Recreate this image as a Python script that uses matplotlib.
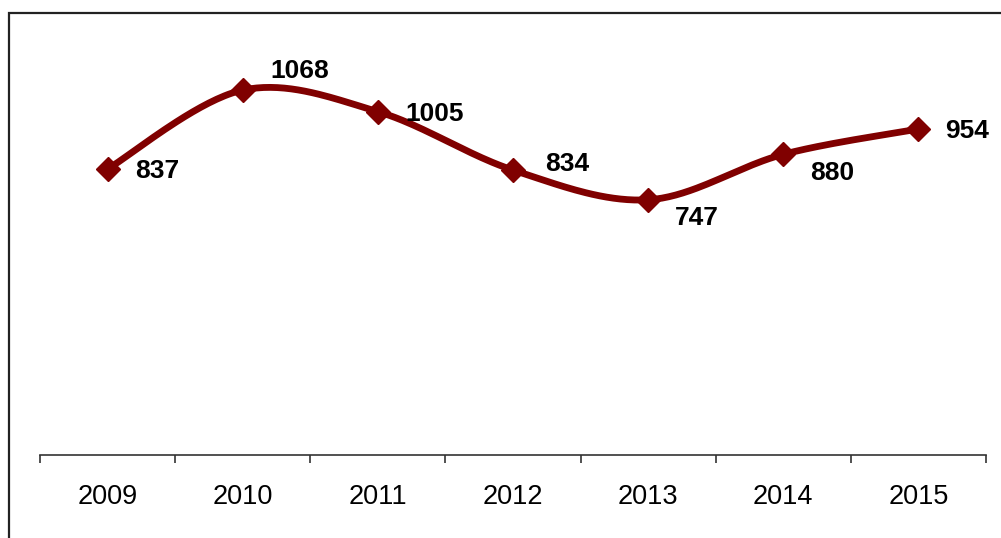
import numpy as np
import matplotlib.pyplot as plt
from matplotlib.patches import Rectangle

years = ['2009', '2010', '2011', '2012', '2013', '2014', '2015']
values = [837, 1068, 1005, 834, 747, 880, 954]
# decalage des etiquettes (points) : droite / haut
label_dx = [20, 20, 19.5, 23, 19.5, 19, 19]
label_dy = [-1.5, 13.5, -1.5, 4.5, -13, -13.5, -1.5]

line_color = '#800000'

plt.rcParams['font.family'] = ['Liberation Sans', 'DejaVu Sans']

fig = plt.figure(figsize=(10.01, 5.38), dpi=100)
fig.patches.append(Rectangle((9 / 1001, -0.1), 1.2, 1 - 13 / 538 + 0.1,
                             transform=fig.transFigure, fill=False,
                             edgecolor='#222222', linewidth=1.6))

ax = fig.add_axes([40 / 1001, 1 - 455 / 538, 946 / 1001, 410 / 538])

# courbe lissee (type Excel, Catmull-Rom)
x = np.arange(len(values), dtype=float)
y = np.array(values, dtype=float)
px = np.concatenate([[x[0]], x, [x[-1]]])
py = np.concatenate([[y[0]], y, [y[-1]]])
cx, cy = [], []
t = np.linspace(0, 1, 40)
for i in range(1, len(px) - 2):
    p0x, p1x, p2x, p3x = px[i - 1], px[i], px[i + 1], px[i + 2]
    p0y, p1y, p2y, p3y = py[i - 1], py[i], py[i + 1], py[i + 2]
    b1x, b1y = p1x + (p2x - p0x) / 6, p1y + (p2y - p0y) / 6
    b2x, b2y = p2x - (p3x - p1x) / 6, p2y - (p3y - p1y) / 6
    bx = (1 - t) ** 3 * p1x + 3 * (1 - t) ** 2 * t * b1x + 3 * (1 - t) * t ** 2 * b2x + t ** 3 * p2x
    by = (1 - t) ** 3 * p1y + 3 * (1 - t) ** 2 * t * b1y + 3 * (1 - t) * t ** 2 * b2y + t ** 3 * p2y
    cx.extend(bx)
    cy.extend(by)

ax.plot(cx, cy, color=line_color, linewidth=4.9, solid_capstyle='round', zorder=2)
ax.plot(x, y, linestyle='none', marker='D', markersize=12,
        color=line_color, zorder=3)

for xi, yi, dx, dy in zip(x, y, label_dx, label_dy):
    ax.annotate(str(int(yi)), (xi, yi), xytext=(dx, dy), textcoords='offset points',
                ha='left', va='center', fontsize=19, fontweight='bold', color='black')

ax.set_xlim(-0.5, len(values) - 0.5)
ax.set_ylim(0, 1200)
ax.set_xticks(x)
ax.set_xticklabels(years, fontsize=19.5)
ax.set_xticks(np.arange(-0.5, len(values), 1), minor=True)
ax.tick_params(axis='x', which='major', length=0, pad=21)
ax.tick_params(axis='x', which='minor', length=6, width=1.2, color='#333333')
ax.set_yticks([])
for s in ['top', 'left', 'right']:
    ax.spines[s].set_visible(False)
ax.spines['bottom'].set_color('#333333')
ax.spines['bottom'].set_linewidth(1.2)

fig.savefig('out.png', dpi=100)
